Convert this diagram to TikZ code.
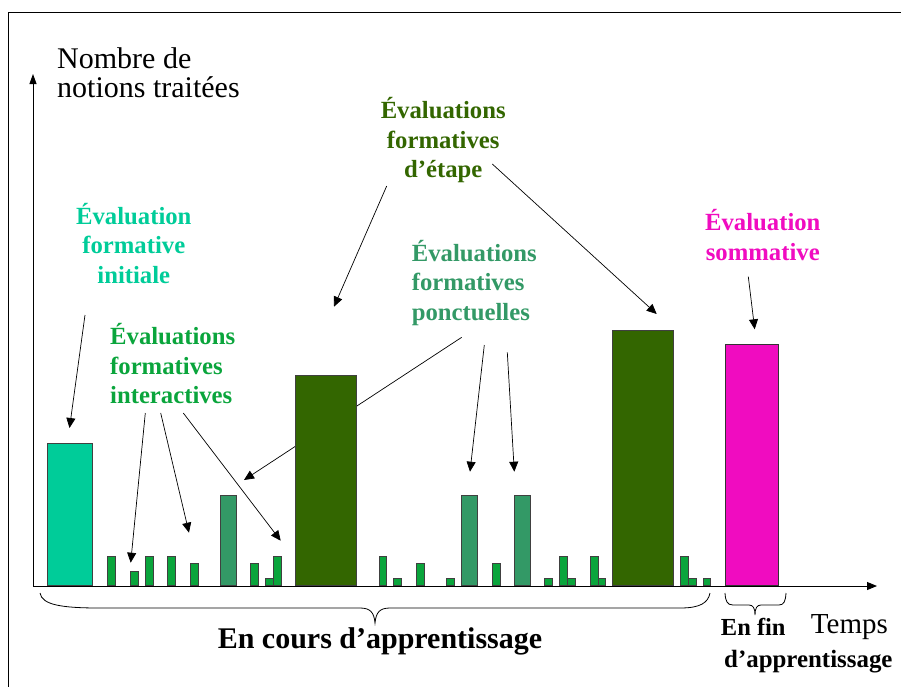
\documentclass[tikz,border=0pt]{standalone}
\usepackage{fontspec}
\setmainfont{Liberation Serif}
\usetikzlibrary{arrows.meta}
\definecolor{tealc}{HTML}{00CC99}
\definecolor{smallc}{RGB}{10,165,60}
\definecolor{medc}{HTML}{339966}
\definecolor{bigc}{HTML}{336600}
\definecolor{magc}{HTML}{F00CC0}
\definecolor{barline}{HTML}{404040}
\tikzset{
  barbox/.style={draw=barline, line width=0.9pt},
  conn/.style={draw=black, line width=0.7pt, -{Triangle[length=10pt,width=9pt]}},
  axisline/.style={draw=black, line width=0.9pt},
  lbl/.style={font=\bfseries\fontsize{24.7}{29.5}\selectfont, inner sep=0pt, anchor=base},
  plain/.style={font=\fontsize{30}{29.5}\selectfont, inner sep=0pt, anchor=base west, align=left},
}
\begin{document}
\begin{tikzpicture}[x=1pt,y=-1pt]
\useasboundingbox (0,0) rectangle (901,686);
\clip (0,0) rectangle (901,686);
% frame
\draw[line width=1.6pt] (8.3,12.3) rectangle (1000,1000);
% axes
\coordinate (O) at (33,586);
\coordinate (ytip) at (33,74);
\coordinate (xtip) at (877,586);
\draw[axisline, -{Triangle[length=10pt,width=7pt]}] (O) -- (ytip);
\draw[axisline, -{Triangle[length=10pt,width=8pt]}] (O) -- (xtip);
% texts
\node[plain] (ylab) at (57,97.7) {Nombre de\\notions traitées};
\node[font=\fontsize{29}{30}\selectfont, inner sep=0pt, anchor=base west] (temps) at (810.7,633.3) {Temps};
\node[lbl, text=tealc, align=center] (init) at (133.8,283.3) {Évaluation\\formative\\initiale};
\node[lbl, text=smallc, align=left, anchor=base west] (inter) at (110,403.5) {Évaluations\\formatives\\interactives};
\node[lbl, text=bigc, align=center] (etape) at (443.2,177.7) {Évaluations\\formatives\\d’étape};
\node[lbl, text=medc, align=left, anchor=base west] (ponct) at (411.7,320) {Évaluations\\formatives\\ponctuelles};
\node[lbl, text=magc, align=center] (somm) at (762.8,260) {Évaluation\\sommative};
\node[font=\bfseries\fontsize{30}{36}\selectfont, inner sep=0pt, anchor=base] (encours) at (380,648) {En cours d’apprentissage};
\node[font=\bfseries\fontsize{24.5}{30}\selectfont, inner sep=0pt, anchor=base west] (enfin) at (720.7,635) {En fin};
\node[font=\bfseries\fontsize{24.9}{30}\selectfont, inner sep=0pt, anchor=base west] (dapp) at (724,667.3) {d’apprentissage};
% braces
\draw[line width=0.8pt] (40,593) .. controls (42,605) and (62,608) .. (100,608) -- (360,608)
  .. controls (370,608) and (374,612) .. (375,623) .. controls (376,612) and (380,608) .. (390,608)
  -- (680,608) .. controls (700,608) and (708,603) .. (710,593);
\draw[line width=0.8pt] (725,593) .. controls (725.5,601) and (727,605) .. (733,605) -- (749,605)
  .. controls (753,605) and (755,608) .. (755,615) .. controls (755,608) and (757,605) .. (761,605)
  -- (779,605) .. controls (784,605) and (785.5,601) .. (786,593);
% connector end points
\coordinate (a1s) at (85,315);     \coordinate (a1e) at (69.5,428);
\coordinate (a2s) at (145.3,413);  \coordinate (a2e) at (130.7,562.7);
\coordinate (a3s) at (160.7,413);  \coordinate (a3e) at (189,532.7);
\coordinate (a4s) at (183.3,413);  \coordinate (a4e) at (280.7,540.7);
\coordinate (a5s) at (461.7,337.3); \coordinate (a5e) at (244,480);
\coordinate (a6s) at (484.3,345);  \coordinate (a6e) at (470,471.7);
\coordinate (a7s) at (507.3,352.3); \coordinate (a7e) at (514.3,471.7);
\coordinate (a8s) at (386.7,186);  \coordinate (a8e) at (334,306.7);
\coordinate (a9s) at (492.3,164);  \coordinate (a9e) at (656.7,314);
\coordinate (a10s) at (748.3,276.7); \coordinate (a10e) at (754.7,329.3);
\foreach \i in {1,...,10} { \draw[conn] (a\i s) -- (a\i e); }
% bars
\def\base{585.7}
\draw[barbox, fill=tealc] (47.3,\base) rectangle (92.7,443.3);
\foreach \xa/\xb/\t in {107.3/115.3/556, 130/138/571.3, 145.3/153.3/556, 167.7/175.7/556,
  190.3/198.3/563.3, 250.3/258.3/563.3, 265.7/273.3/578.3, 273.3/281.3/556,
  379/386.7/556, 393.7/401.7/578.3, 416.3/424.3/563.3, 446.7/454.5/578.3,
  492/500/563.3, 544.7/552.5/578.3, 559.5/567.2/556, 567.2/575/578.3,
  590.3/598/556, 598/605.7/578.3, 680.5/688.2/556, 688.2/696/578.3, 703/710.8/578.3}
  { \draw[barbox, fill=smallc] (\xa,\base) rectangle (\xb,\t); }
\foreach \xa/\xb in {220.7/236, 461.7/477, 514.7/530}
  { \draw[barbox, fill=medc] (\xa,\base) rectangle (\xb,495.7); }
\draw[barbox, fill=bigc] (295.7,\base) rectangle (356.7,375);
\draw[barbox, fill=bigc] (612.3,\base) rectangle (673.3,330);
\draw[barbox, draw=black!80, fill=magc] (725.3,\base) rectangle (778.7,344.7);
\end{tikzpicture}
\end{document}
